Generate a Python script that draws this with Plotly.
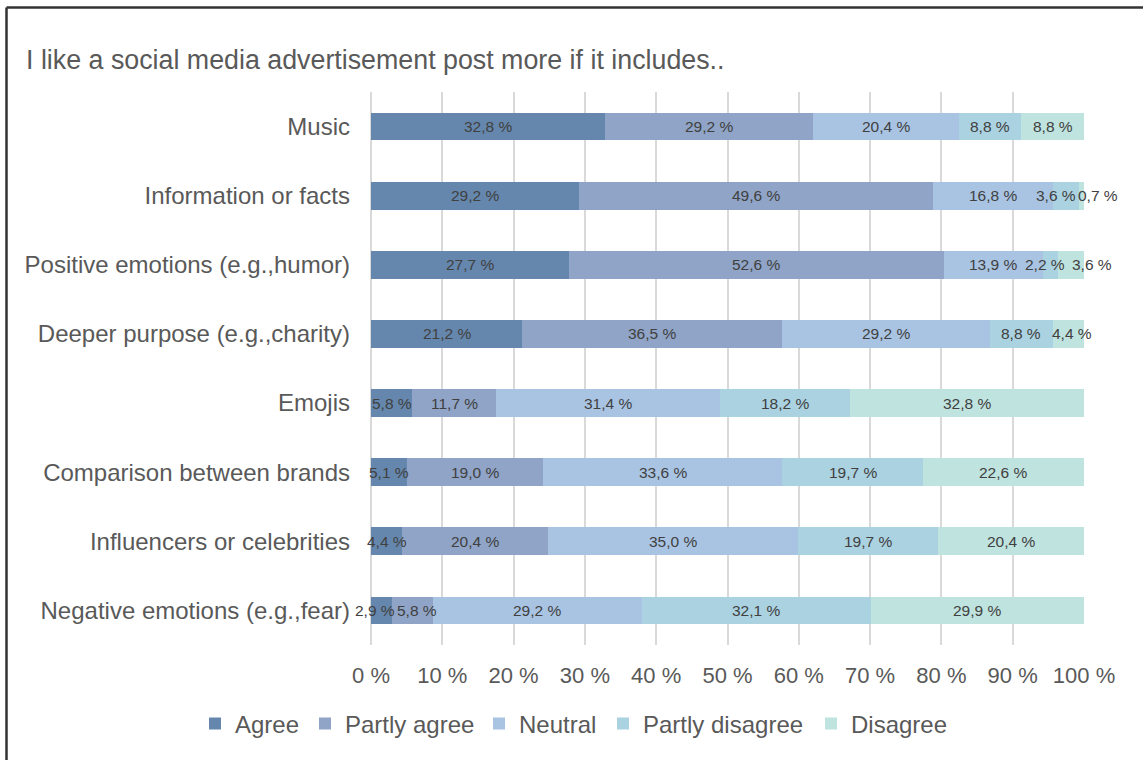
import plotly.graph_objects as go

# Survey items and answer scale
categories = [
    "Music",
    "Information or facts",
    "Positive emotions (e.g.,humor)",
    "Deeper purpose (e.g.,charity)",
    "Emojis",
    "Comparison between brands",
    "Influencers or celebrities",
    "Negative emotions (e.g.,fear)",
]
series_names = ["Agree", "Partly agree", "Neutral", "Partly disagree", "Disagree"]

# Share of respondents (%) per answer, one list per answer option
agree = [32.8, 29.2, 27.7, 21.2, 5.8, 5.1, 4.4, 2.9]
partly_agree = [29.2, 49.6, 52.6, 36.5, 11.7, 19.0, 20.4, 5.8]
neutral = [20.4, 16.8, 13.9, 29.2, 31.4, 33.6, 35.0, 29.2]
partly_disagree = [8.8, 3.6, 2.2, 8.8, 18.2, 19.7, 19.7, 32.1]
disagree = [8.8, 0.7, 3.6, 4.4, 32.8, 22.6, 20.4, 29.9]

x_ticks = list(range(0, 101, 10))
title_text = "I like a social media advertisement post more if it includes.."

series_values = [agree, partly_agree, neutral, partly_disagree, disagree]
colors = ["#6587ad", "#8fa4c6", "#a9c4e3", "#abd2e1", "#bfe3df"]

# small horizontal nudges for labels that would collide on thin segments
label_nudge = {
    (1, 3): -10, (1, 4): 16,
    (2, 3): -5, (2, 4): 21,
    (3, 4): 4,
    (7, 0): -6, (7, 1): 5,
}

# left edge (px) of the text of each legend entry, laid out in one row
legend_text_left = [235, 345, 519, 643, 851]

FONT = "Liberation Sans, Arial, sans-serif"
W, H = 1143, 760
ML, MR, MT, MB = 371, 59, 92, 115
PW, PH = W - ML - MR, H - MT - MB


def px_to_paper_x(px):
    return (px - ML) / PW


def px_to_paper_y(py):
    return 1 - (py - MT) / PH


def fmt(v):
    return f"{v:.1f}".replace(".", ",") + " %"


fig = go.Figure()
legend_ids = ["legend"] + [f"legend{k}" for k in range(2, len(series_names) + 1)]
for name, vals, col, lid in zip(series_names, series_values, colors, legend_ids):
    fig.add_trace(go.Bar(
        name=name, y=categories, x=vals, orientation="h",
        marker=dict(color=col, line=dict(width=0)),
        hoverinfo="skip", legend=lid,
    ))

annotations = []
for i, cat in enumerate(categories):
    row = [s[i] for s in series_values]
    total = sum(row)
    cum = 0.0
    for j, v in enumerate(row):
        mid = (cum + v / 2) / total * 100
        cum += v
        annotations.append(dict(
            x=mid, y=cat, xref="x", yref="y", text=fmt(v), showarrow=False,
            xshift=label_nudge.get((i, j), 0),
            font=dict(family=FONT, size=15.5, color="#404040"),
        ))

annotations.append(dict(
    x=px_to_paper_x(24), y=px_to_paper_y(60), xref="paper", yref="paper",
    text=title_text, showarrow=False, xanchor="left", yanchor="middle",
    font=dict(family=FONT, size=26.8, color="#595959"),
))

# frame lines along the top and left edges
shapes = [
    dict(type="line", xref="paper", yref="paper",
         x0=px_to_paper_x(6.5), x1=px_to_paper_x(W + 5),
         y0=px_to_paper_y(7.5), y1=px_to_paper_y(7.5),
         line=dict(color="#333333", width=2.5)),
    dict(type="line", xref="paper", yref="paper",
         x0=px_to_paper_x(6.5), x1=px_to_paper_x(6.5),
         y0=px_to_paper_y(7.5), y1=px_to_paper_y(H + 5),
         line=dict(color="#333333", width=2.5)),
]

legend_layouts = {}
for lid, tx in zip(legend_ids, legend_text_left):
    legend_layouts[lid] = dict(
        orientation="h", x=px_to_paper_x(tx - 40), xanchor="left",
        y=px_to_paper_y(724), yanchor="middle",
        font=dict(size=24, color="#595959"),
        itemwidth=30, bgcolor="rgba(0,0,0,0)", borderwidth=0,
    )

fig.update_layout(
    width=W, height=H,
    margin=dict(l=ML, r=MR, t=MT, b=MB, pad=0, autoexpand=False),
    paper_bgcolor="white", plot_bgcolor="white",
    barmode="stack", barnorm="percent", bargap=0.6,
    font=dict(family=FONT, color="#595959"),
    annotations=annotations, shapes=shapes,
    showlegend=True,
    xaxis=dict(
        range=[0, 100], tickvals=x_ticks, ticktext=[f"{t} %" for t in x_ticks],
        showgrid=True, gridcolor="#d9d9d9", gridwidth=2,
        zeroline=True, zerolinecolor="#d9d9d9", zerolinewidth=2,
        showline=False, ticks="", ticklabelstandoff=15,
        tickfont=dict(size=22, color="#595959"), fixedrange=True,
    ),
    yaxis=dict(
        type="category", autorange="reversed",
        showgrid=False, zeroline=False, showline=False, ticks="",
        ticklabelstandoff=20,
        tickfont=dict(size=24, color="#595959"), fixedrange=True,
    ),
    **legend_layouts,
)

fig.write_html("out.html", config={"displayModeBar": False})
